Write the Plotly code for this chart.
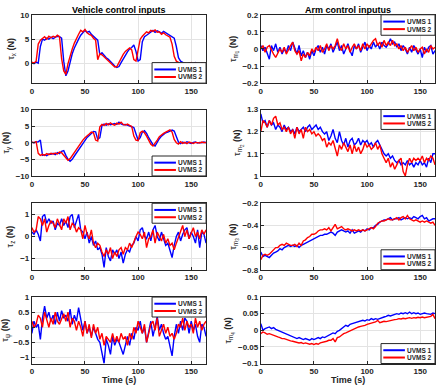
import plotly.graph_objects as go
from plotly.subplots import make_subplots

# time base (s), one sample every 2 s
time_s = list(range(0, 166, 2))

# ---- vehicle control inputs ----
tau_x_1 = [0.2, 0.0, 0.3, 0.1, 3.5, 5.0, 4.8, 5.2, 5.0, 5.4, 5.1, 5.3, 5.6, 5.5, 5.2,
           0.5, -2.5, -1.5, 0.5, 2.0, 3.2, 4.2, 5.0, 5.8, 6.3, 6.8, 6.4, 6.6, 6.0, 5.5,
           5.2, 4.8, 1.8, 2.2, 1.6, 1.2, 0.9, 0.4, 0.0, -0.5, -0.8, -0.6, 0.2, 1.0, 1.8,
           2.4, 3.0, 3.3, 3.8, 2.5, 0.5, 0.8, 4.5, 5.5, 5.8, 6.2, 6.5, 6.8, 6.4, 6.7,
           6.5, 6.2, 6.6, 6.3, 6.0, 5.8, 5.5, 5.2, 3.5, 1.2, 0.5, 0.2, 0.0, -0.2, 0.1,
           -0.1, 0.0, 0.2, -0.1, 0.0, 0.1, 0.0, -0.1]
tau_x_2 = [0.3, 0.1, 0.5, 4.0, 4.8, 5.2, 5.5, 5.0, 5.6, 5.3, 5.6, 5.4, 5.8, 5.5, 1.0,
           -1.5, -2.2, 0.0, 1.8, 3.0, 4.2, 5.2, 6.0, 6.8, 6.5, 7.0, 6.3, 6.0, 5.8, 5.2,
           4.8, 0.8, 2.0, 1.8, 1.4, 1.0, 0.6, 0.2, -0.3, -0.7, -0.6, 0.3, 1.2, 1.9, 2.5,
           2.8, 3.2, 2.8, 0.8, 0.5, 3.0, 5.0, 5.6, 6.0, 6.5, 6.3, 6.8, 6.6, 6.9, 6.4,
           6.5, 6.0, 6.3, 5.9, 5.6, 5.4, 4.0, 1.5, 0.5, 0.2, 0.0, -0.2, 0.1, -0.1, 0.0,
           0.2, -0.1, 0.1, 0.0, -0.2, 0.1, 0.0, 0.1]

tau_y_1 = [0.1, 0.0, 0.2, 0.3, 0.8, -3.8, -3.6, -3.9, -3.4, -3.5, -3.2, -3.6, -3.0, -3.3,
           -2.6, -2.4, -3.8, -5.0, -5.6, -5.0, -4.0, -3.0, -2.0, -1.0, 0.0, 0.8, 1.6,
           2.2, 2.8, 3.4, 3.3, 1.0, 1.5, 5.2, 5.6, 5.3, 5.7, 5.4, 5.6, 5.8, 5.5, 6.2,
           5.7, 5.4, 5.5, 5.2, 5.0, 4.8, 4.6, 3.0, 0.8, 1.5, 3.2, 3.6, 2.8, 1.5, 0.2,
           -0.6, -1.0, 0.2, 1.2, 2.0, 2.5, 3.0, 3.2, 3.6, 3.8, 3.5, 1.5, 0.2, -0.3, 0.2,
           -0.1, 0.3, 0.0, -0.2, 0.1, 0.2, -0.1, 0.1, 0.0, 0.2, 0.0]
tau_y_2 = [0.2, 0.0, 0.3, -3.2, -3.8, -3.5, -3.8, -3.3, -3.6, -3.2, -3.4, -3.1, -3.4, -2.8,
           -3.0, -3.8, -4.8, -5.3, -4.8, -3.8, -2.8, -1.8, -0.8, 0.2, 0.8, 1.5, 2.2,
           2.6, 3.2, 3.0, 0.8, 0.5, 4.8, 5.5, 5.2, 5.8, 5.4, 6.0, 5.5, 5.3, 5.9, 5.6,
           6.2, 5.5, 5.3, 5.6, 5.2, 4.9, 2.0, 0.8, 0.6, 3.0, 3.5, 3.0, 2.0, 0.8, -0.5,
           -1.0, -0.2, 0.8, 1.8, 2.4, 2.8, 3.2, 3.6, 3.9, 3.2, 1.0, 0.0, -0.4, 0.3, -0.2,
           0.1, -0.3, 0.2, 0.0, -0.2, 0.1, 0.0, -0.1, 0.2, 0.0, 0.1]

tau_z_1 = [0.2, 0.1, 0.3, 0.1, -0.2, 0.9, 1.0, 0.6, 0.8, 0.6, 0.7, 0.3, 0.6, 0.5, 0.8,
           0.5, 0.7, 0.4, 0.9, 1.0, 0.4, 0.7, 1.0, 0.3, 0.2, -0.1, 0.2, -0.3, 0.0, -0.4,
           -0.2, -0.6, -0.5, -0.8, -1.4, -0.5, -0.9, -1.1, -0.6, -0.8, -0.6, -1.0, -0.7,
           -1.2, -0.8, -0.6, -0.7, -0.4, -0.3, 0.0, -0.2, 0.3, 0.4, 0.0, -0.1, 0.2,
           -0.2, 0.3, 0.5, 0.0, -0.2, 0.2, -0.1, -0.4, -0.3, -0.6, -0.95, -0.4, 0.0,
           0.2, -0.2, 0.1, 0.3, 0.4, -0.1, 0.2, 0.0, -0.3, 0.3, -0.5, 0.2, 0.1, -0.3]
tau_z_2 = [0.4, 0.2, 0.3, 0.9, 0.8, 0.5, 0.8, 0.2, 0.5, 0.7, 0.6, 0.4, 0.8, 0.5, 0.3,
           0.8, 0.6, 0.9, 0.3, 0.6, 0.5, 0.2, 0.4, 0.3, -0.1, 0.5, 0.1, -0.1, 0.3, -0.3,
           -0.5, -0.3, -0.4, -0.7, -0.9, -0.6, -0.8, -0.5, -1.0, -0.7, -0.9, -0.6, -0.5,
           -0.8, -0.5, -0.6, -0.3, -0.5, -0.2, 0.0, 0.2, 0.1, -0.1, 0.2, -0.5, -0.1,
           0.0, 0.3, -0.3, 0.2, 0.0, -0.2, 0.1, -0.3, -0.1, -0.4, -0.3, -0.6, -0.3, 0.0,
           0.2, 0.5, 0.0, 0.3, -0.1, 0.2, 0.4, 0.0, 0.2, -0.1, 0.3, 0.1, 0.3]

tau_psi_1 = [-0.2, 0.2, 0.0, 0.1, -0.4, 0.3, 0.7, 0.3, 0.5, 0.2, 0.4, 0.1, 0.5, 0.2,
             0.55, 0.3, 0.4, 0.2, 0.6, 0.1, 0.4, 0.2, 0.65, 0.2, -0.1, 0.2, -0.2, 0.0,
             -0.3, 0.0, -0.2, -0.4, -0.5, -0.8, -1.2, -0.4, -0.6, -0.9, -0.3, -0.6,
             -0.4, -0.5, -0.7, -0.9, -0.6, -0.3, -0.6, -0.2, -0.4, 0.0, -0.1, 0.2, -0.2,
             0.0, -0.5, -0.1, 0.2, -0.3, 0.0, 0.35, -0.1, 0.1, -0.2, -0.4, -0.3, -0.6,
             -0.95, -0.3, 0.1, -0.2, 0.2, -0.1, 0.3, 0.2, -0.2, 0.2, -0.1, 0.1, -0.3,
             -0.5, 0.1, 0.0, -0.3]
tau_psi_2 = [0.2, 0.0, 0.1, 0.4, 0.3, 0.0, 0.5, 0.2, 0.0, 0.3, 0.1, 0.5, 0.2, 0.1, 0.3,
             0.45, 0.2, 0.5, 0.0, 0.3, 0.2, -0.1, 0.2, 0.0, -0.3, 0.2, -0.2, 0.1, -0.35,
             0.1, -0.2, 0.0, -0.4, -0.2, -0.6, -0.3, -0.4, -0.5, -0.2, -0.5, -0.3, -0.5,
             -0.2, -0.4, -0.3, -0.6, -0.2, -0.4, 0.0, -0.2, 0.2, 0.0, -0.2, 0.1, -0.5,
             -0.2, 0.1, 0.2, -0.1, 0.3, -0.3, -0.1, 0.1, -0.2, 0.0, -0.3, -0.2, -0.4,
             -0.2, 0.1, 0.0, 0.3, -0.1, 0.2, 0.0, 0.1, -0.2, 0.3, 0.0, 0.2, -0.1, 0.1, 0.2]

# ---- arm control inputs ----
tau_m1_1 = [0.02, -0.01, 0.01, -0.02, -0.06, 0.02, -0.01, 0.03, -0.02, 0.01, -0.03, 0.0,
            -0.02, 0.02, -0.01, 0.04, 0.0, -0.03, 0.02, -0.04, -0.01, -0.05, -0.02,
            -0.06, -0.01, -0.04, 0.0, 0.02, -0.02, 0.01, -0.03, 0.02, 0.0, 0.03, -0.02,
            0.01, 0.04, -0.01, 0.02, -0.03, 0.0, 0.03, -0.01, -0.04, 0.02, 0.0, 0.03,
            -0.02, 0.01, 0.04, -0.01, 0.02, 0.0, 0.04, 0.01, 0.03, 0.0, 0.04, 0.02, 0.01,
            0.03, 0.06, 0.03, 0.04, 0.01, 0.03, -0.01, 0.02, 0.0, -0.03, 0.01, -0.02,
            0.02, -0.01, -0.03, 0.0, -0.05, 0.01, -0.02, 0.01, 0.02, -0.03, -0.01]
tau_m1_2 = [0.0, 0.02, -0.02, 0.01, 0.02, -0.01, -0.03, -0.05, -0.02, 0.0, -0.02, 0.01,
            -0.03, 0.0, 0.02, 0.04, -0.01, -0.03, -0.01, -0.07, -0.03, -0.05, -0.02,
            -0.04, 0.0, -0.02, 0.01, -0.01, 0.02, -0.02, 0.0, 0.03, -0.01, 0.02, 0.0,
            0.02, 0.06, 0.01, -0.01, 0.03, 0.0, 0.02, -0.02, 0.01, 0.03, 0.0, 0.02, -0.01,
            0.03, 0.0, 0.03, 0.01, 0.03, 0.05, 0.06, 0.02, 0.04, 0.01, 0.05, 0.02, 0.04,
            0.02, 0.05, 0.02, 0.03, 0.0, 0.02, -0.01, 0.01, -0.02, 0.0, 0.02, -0.01, 0.01,
            -0.02, 0.0, 0.01, -0.03, 0.0, -0.02, 0.02, 0.0, 0.01]

tau_m2_1 = [1.28, 1.24, 1.25, 1.22, 1.25, 1.23, 1.24, 1.21, 1.23, 1.22, 1.20, 1.23, 1.21,
            1.22, 1.20, 1.21, 1.19, 1.22, 1.20, 1.21, 1.22, 1.20, 1.22, 1.23, 1.21, 1.22,
            1.23, 1.21, 1.22, 1.20, 1.19, 1.20, 1.16, 1.18, 1.21, 1.17, 1.15, 1.20, 1.16,
            1.14, 1.17, 1.13, 1.16, 1.17, 1.14, 1.15, 1.17, 1.14, 1.16, 1.15, 1.16, 1.14,
            1.15, 1.13, 1.15, 1.16, 1.14, 1.12, 1.10, 1.09, 1.10, 1.08, 1.09, 1.07, 1.06,
            1.07, 1.05, 1.06, 1.05, 1.07, 1.05, 1.06, 1.04, 1.06, 1.05, 1.07, 1.05, 1.06,
            1.04, 1.08, 1.06, 1.10, 1.10]
tau_m2_2 = [1.20, 1.25, 1.24, 1.22, 1.25, 1.23, 1.26, 1.27, 1.23, 1.24, 1.21, 1.22, 1.20,
            1.22, 1.19, 1.21, 1.17, 1.22, 1.19, 1.21, 1.17, 1.22, 1.20, 1.21, 1.19, 1.20,
            1.18, 1.19, 1.18, 1.16, 1.17, 1.13, 1.15, 1.14, 1.16, 1.13, 1.09, 1.14, 1.12,
            1.15, 1.13, 1.11, 1.14, 1.10, 1.14, 1.11, 1.13, 1.10, 1.12, 1.15, 1.13, 1.14,
            1.12, 1.13, 1.15, 1.12, 1.14, 1.10, 1.08, 1.06, 1.08, 1.04, 1.06, 1.03, 1.05,
            1.07, 1.08, 1.02, 1.00, 1.05, 1.08, 1.06, 1.08, 1.07, 1.08, 1.07, 1.09, 1.06,
            1.08, 1.07, 1.09, 1.08, 1.05]

tau_m3_1 = [-0.64, -0.68, -0.67, -0.68, -0.69, -0.67, -0.65, -0.64, -0.63, -0.61, -0.62,
            -0.60, -0.59, -0.58, -0.59, -0.58, -0.59, -0.58, -0.60, -0.58, -0.57, -0.56,
            -0.55, -0.54, -0.53, -0.52, -0.51, -0.50, -0.49, -0.49, -0.48, -0.48, -0.47,
            -0.46, -0.47, -0.49, -0.46, -0.45, -0.44, -0.45, -0.46, -0.45, -0.47, -0.44,
            -0.47, -0.46, -0.45, -0.46, -0.44, -0.45, -0.43, -0.44, -0.42, -0.42, -0.40,
            -0.39, -0.37, -0.36, -0.35, -0.35, -0.34, -0.33, -0.35, -0.34, -0.34, -0.33,
            -0.35, -0.34, -0.33, -0.34, -0.33, -0.34, -0.32, -0.33, -0.34, -0.32, -0.31,
            -0.34, -0.33, -0.36, -0.35, -0.34, -0.34]
tau_m3_2 = [-0.71, -0.67, -0.66, -0.67, -0.66, -0.64, -0.62, -0.60, -0.60, -0.58, -0.57,
            -0.58, -0.56, -0.57, -0.58, -0.58, -0.57, -0.59, -0.56, -0.58, -0.54, -0.53,
            -0.51, -0.50, -0.48, -0.48, -0.47, -0.45, -0.44, -0.44, -0.43, -0.44, -0.42,
            -0.45, -0.42, -0.39, -0.43, -0.42, -0.41, -0.43, -0.44, -0.43, -0.44, -0.45,
            -0.44, -0.45, -0.44, -0.45, -0.44, -0.45, -0.44, -0.43, -0.42, -0.43, -0.41,
            -0.38, -0.37, -0.36, -0.36, -0.35, -0.34, -0.35, -0.35, -0.34, -0.33, -0.35,
            -0.33, -0.32, -0.34, -0.31, -0.34, -0.35, -0.36, -0.35, -0.36, -0.37, -0.36,
            -0.37, -0.36, -0.37, -0.38, -0.37, -0.40]

tau_m4_1 = [0.020, 0.000, 0.005, 0.008, 0.010, 0.005, 0.008, 0.003, 0.000, -0.002, -0.005,
            -0.008, -0.010, -0.015, -0.018, -0.020, -0.022, -0.025, -0.022, -0.025,
            -0.028, -0.025, -0.027, -0.030, -0.025, -0.028, -0.025, -0.022, -0.025,
            -0.020, -0.022, -0.018, -0.015, -0.012, -0.008, -0.010, -0.003, 0.000, 0.005,
            0.010, 0.015, 0.012, 0.018, 0.020, 0.022, 0.025, 0.025, 0.028, 0.030, 0.028,
            0.032, 0.030, 0.035, 0.032, 0.035, 0.033, 0.036, 0.038, 0.040, 0.042, 0.045,
            0.043, 0.046, 0.048, 0.050, 0.048, 0.052, 0.050, 0.053, 0.050, 0.055, 0.050,
            0.053, 0.050, 0.052, 0.048, 0.050, 0.052, 0.050, 0.050, 0.048, 0.052, 0.050]
tau_m4_2 = [-0.010, -0.005, -0.008, -0.012, -0.010, -0.013, -0.015, -0.018, -0.020,
            -0.022, -0.025, -0.025, -0.028, -0.030, -0.032, -0.033, -0.035, -0.036,
            -0.038, -0.037, -0.040, -0.038, -0.040, -0.042, -0.040, -0.043, -0.040,
            -0.042, -0.038, -0.037, -0.035, -0.033, -0.030, -0.030, -0.025, -0.035,
            -0.022, -0.020, -0.015, -0.010, -0.008, -0.005, 0.000, 0.002, 0.005, 0.008,
            0.010, 0.012, 0.013, 0.015, 0.018, 0.020, 0.020, 0.022, 0.025, 0.030, 0.023,
            0.025, 0.027, 0.026, 0.028, 0.030, 0.030, 0.032, 0.033, 0.035, 0.034, 0.036,
            0.035, 0.037, 0.038, 0.036, 0.038, 0.037, 0.039, 0.038, 0.040, 0.038, 0.039,
            0.040, 0.042, 0.048, 0.035]

names = ["UVMS 1", "UVMS 2"]
colors = ["#0000ff", "#ff0000"]

# panel order: row by row (left = vehicle, right = arm)
panels = [
    (tau_x_1, tau_x_2, "τ<sub>x</sub> <b>(N)</b>", [-4, 10], 5, "bottom"),
    (tau_m1_1, tau_m1_2, "τ<sub>m<sub>1</sub></sub> <b>(N)</b>", [-0.2, 0.2], 0.1, "top"),
    (tau_y_1, tau_y_2, "τ<sub>y</sub> <b>(N)</b>", [-10, 10], 5, "bottom"),
    (tau_m2_1, tau_m2_2, "τ<sub>m<sub>2</sub></sub> <b>(N)</b>", [1, 1.3], 0.1, "top"),
    (tau_z_1, tau_z_2, "τ<sub>z</sub> <b>(N)</b>", [-1.5, 1.5], 1, "top"),
    (tau_m3_1, tau_m3_2, "τ<sub>m<sub>3</sub></sub> <b>(N)</b>", [-0.8, -0.2], 0.2, "bottom"),
    (tau_psi_1, tau_psi_2, "τ<sub>ψ</sub> <b>(N)</b>", [-1.2, 1], 0.5, "top"),
    (tau_m4_1, tau_m4_2, "τ<sub>m<sub>4</sub></sub> <b>(N)</b>", [-0.1, 0.1], 0.05, "bottom"),
]

W, H = 443, 390
col_px = [(30, 205), (260, 435)]
row_px = [(11, 81), (108, 176), (204, 272), (300, 368)]
FONT = "Liberation Sans, Arial, sans-serif"

fig = make_subplots(rows=4, cols=2)

for k, (s1, s2, ytitle, yrange, dtick, legpos) in enumerate(panels):
    row, col = k // 2 + 1, k % 2 + 1
    for s, name, c in zip((s1, s2), names, colors):
        fig.add_trace(go.Scatter(x=time_s, y=s, mode="lines", name=name,
                                 line=dict(color=c, width=1.4), showlegend=False),
                      row=row, col=col)

    xd = [col_px[col - 1][0] / W, col_px[col - 1][1] / W]
    yd = [1 - row_px[row - 1][1] / H, 1 - row_px[row - 1][0] / H]
    axis_style = dict(showline=True, linecolor="#262626", linewidth=1, mirror=True,
                      ticks="inside", ticklen=3, tickcolor="#262626",
                      showgrid=True, gridcolor="#e3e3e3", gridwidth=1, zeroline=False,
                      tickfont=dict(family=FONT, size=8, color="#262626", weight="bold"))
    fig.update_xaxes(domain=xd, range=[0, 164], tickvals=[0, 50, 100, 150],
                     row=row, col=col, **axis_style)
    fig.update_yaxes(domain=yd, range=yrange, dtick=dtick, row=row, col=col,
                     title=dict(text=ytitle, standoff=4,
                                font=dict(family=FONT, size=9, color="#262626")),
                     **axis_style)

    # legend box drawn inside each panel
    ax = "" if k == 0 else str(k + 1)
    xr, yr = f"x{ax} domain", f"y{ax} domain"
    bx0, bx1 = 0.69, 1.0
    by0, by1 = (0.70, 1.0) if legpos == "top" else (0.0, 0.30)
    fig.add_shape(type="rect", xref=xr, yref=yr, x0=bx0, x1=bx1, y0=by0, y1=by1,
                  line=dict(color="#262626", width=1), fillcolor="white", layer="above")
    for j, (name, c) in enumerate(zip(names, colors)):
        yy = by1 - 0.1 - j * 0.11
        fig.add_shape(type="line", xref=xr, yref=yr, x0=bx0 + 0.013, x1=bx0 + 0.137,
                      y0=yy, y1=yy, line=dict(color=c, width=2), layer="above")
        fig.add_annotation(xref=xr, yref=yr, x=bx0 + 0.14, y=yy, text=f"<b>{name}</b>",
                           showarrow=False, xanchor="left", yanchor="middle",
                           font=dict(family=FONT, size=6.5, color="#262626"))

for txt, xc in [("<b>Vehicle control inputs</b>", (30 + 205) / 2 / W),
                ("<b>Arm control inputus</b>", (260 + 435) / 2 / W)]:
    fig.add_annotation(xref="paper", yref="paper", x=xc, y=1 - 6 / H, text=txt,
                       showarrow=False, xanchor="center", yanchor="middle",
                       font=dict(family=FONT, size=9, color="#000000"))
for xc in [(30 + 205) / 2 / W, (260 + 435) / 2 / W]:
    fig.add_annotation(xref="paper", yref="paper", x=xc, y=1 - 385 / H,
                       text="<b>Time (s)</b>", showarrow=False, xanchor="center",
                       yanchor="middle", font=dict(family=FONT, size=9, color="#262626"))

fig.update_layout(width=W, height=H, margin=dict(l=0, r=0, t=0, b=0),
                  plot_bgcolor="white", paper_bgcolor="white",
                  font=dict(family=FONT, size=8, color="#262626"))

# drop the default page margin so the figure sits at the window's corner
fig.write_html("out.html", config={"displayModeBar": False},
               post_script="document.body.style.margin='0';")
